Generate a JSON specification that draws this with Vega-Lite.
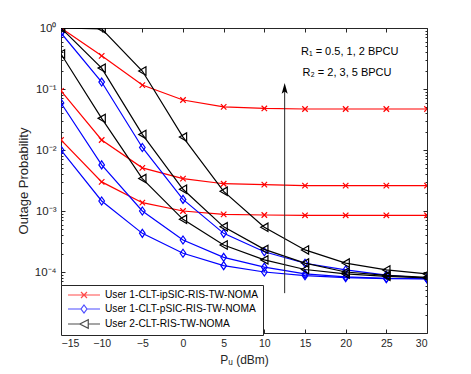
{
  "$schema": "https://vega.github.io/schema/vega-lite/v6.json",
  "width": 366,
  "height": 305,
  "autosize": "none",
  "padding": {"left": 61, "top": 28, "right": 44, "bottom": 41},
  "background": "white",
  "config": {
    "view": {"stroke": "#262626", "strokeWidth": 1},
    "font": "Liberation Sans",
    "axis": {
      "grid": false,
      "domain": false,
      "labelFont": "Liberation Sans",
      "titleFont": "Liberation Sans",
      "labelColor": "#262626",
      "tickColor": "#262626",
      "titleColor": "#262626",
      "labelFontSize": 10.5,
      "titleFontSize": 12,
      "titleFontWeight": "normal"
    },
    "legend": {
      "orient": "none",
      "legendX": 0,
      "legendY": 257,
      "strokeColor": "#262626",
      "fillColor": "white",
      "padding": 4,
      "labelFont": "Liberation Sans",
      "labelFontSize": 10.2,
      "labelColor": "black",
      "symbolSize": 100,
      "symbolStrokeWidth": 1.2,
      "symbolOffset": 13,
      "labelOffset": 15,
      "rowPadding": 1
    }
  },
  "data": {
    "values": [
      {"series": "User 1-CLT-ipSIC-RIS-TW-NOMA", "curve": "r1", "x": -15, "y": 1.0},
      {"series": "User 1-CLT-ipSIC-RIS-TW-NOMA", "curve": "r1", "x": -10, "y": 0.35},
      {"series": "User 1-CLT-ipSIC-RIS-TW-NOMA", "curve": "r1", "x": -5, "y": 0.116},
      {"series": "User 1-CLT-ipSIC-RIS-TW-NOMA", "curve": "r1", "x": 0, "y": 0.066},
      {"series": "User 1-CLT-ipSIC-RIS-TW-NOMA", "curve": "r1", "x": 5, "y": 0.051},
      {"series": "User 1-CLT-ipSIC-RIS-TW-NOMA", "curve": "r1", "x": 10, "y": 0.048},
      {"series": "User 1-CLT-ipSIC-RIS-TW-NOMA", "curve": "r1", "x": 15, "y": 0.047},
      {"series": "User 1-CLT-ipSIC-RIS-TW-NOMA", "curve": "r1", "x": 20, "y": 0.047},
      {"series": "User 1-CLT-ipSIC-RIS-TW-NOMA", "curve": "r1", "x": 25, "y": 0.047},
      {"series": "User 1-CLT-ipSIC-RIS-TW-NOMA", "curve": "r1", "x": 30, "y": 0.047},
      {"series": "User 1-CLT-ipSIC-RIS-TW-NOMA", "curve": "r2", "x": -15, "y": 0.093},
      {"series": "User 1-CLT-ipSIC-RIS-TW-NOMA", "curve": "r2", "x": -10, "y": 0.0146},
      {"series": "User 1-CLT-ipSIC-RIS-TW-NOMA", "curve": "r2", "x": -5, "y": 0.0051},
      {"series": "User 1-CLT-ipSIC-RIS-TW-NOMA", "curve": "r2", "x": 0, "y": 0.0034},
      {"series": "User 1-CLT-ipSIC-RIS-TW-NOMA", "curve": "r2", "x": 5, "y": 0.0028},
      {"series": "User 1-CLT-ipSIC-RIS-TW-NOMA", "curve": "r2", "x": 10, "y": 0.0027},
      {"series": "User 1-CLT-ipSIC-RIS-TW-NOMA", "curve": "r2", "x": 15, "y": 0.0026},
      {"series": "User 1-CLT-ipSIC-RIS-TW-NOMA", "curve": "r2", "x": 20, "y": 0.0026},
      {"series": "User 1-CLT-ipSIC-RIS-TW-NOMA", "curve": "r2", "x": 25, "y": 0.0026},
      {"series": "User 1-CLT-ipSIC-RIS-TW-NOMA", "curve": "r2", "x": 30, "y": 0.0026},
      {"series": "User 1-CLT-ipSIC-RIS-TW-NOMA", "curve": "r3", "x": -15, "y": 0.0146},
      {"series": "User 1-CLT-ipSIC-RIS-TW-NOMA", "curve": "r3", "x": -10, "y": 0.003},
      {"series": "User 1-CLT-ipSIC-RIS-TW-NOMA", "curve": "r3", "x": -5, "y": 0.00137},
      {"series": "User 1-CLT-ipSIC-RIS-TW-NOMA", "curve": "r3", "x": 0, "y": 0.001},
      {"series": "User 1-CLT-ipSIC-RIS-TW-NOMA", "curve": "r3", "x": 5, "y": 0.00088},
      {"series": "User 1-CLT-ipSIC-RIS-TW-NOMA", "curve": "r3", "x": 10, "y": 0.00086},
      {"series": "User 1-CLT-ipSIC-RIS-TW-NOMA", "curve": "r3", "x": 15, "y": 0.00085},
      {"series": "User 1-CLT-ipSIC-RIS-TW-NOMA", "curve": "r3", "x": 20, "y": 0.00085},
      {"series": "User 1-CLT-ipSIC-RIS-TW-NOMA", "curve": "r3", "x": 25, "y": 0.00085},
      {"series": "User 1-CLT-ipSIC-RIS-TW-NOMA", "curve": "r3", "x": 30, "y": 0.00085},
      {"series": "User 1-CLT-pSIC-RIS-TW-NOMA", "curve": "b1", "x": -15, "y": 0.83},
      {"series": "User 1-CLT-pSIC-RIS-TW-NOMA", "curve": "b1", "x": -10, "y": 0.13},
      {"series": "User 1-CLT-pSIC-RIS-TW-NOMA", "curve": "b1", "x": -5, "y": 0.011},
      {"series": "User 1-CLT-pSIC-RIS-TW-NOMA", "curve": "b1", "x": 0, "y": 0.00155},
      {"series": "User 1-CLT-pSIC-RIS-TW-NOMA", "curve": "b1", "x": 5, "y": 0.00043},
      {"series": "User 1-CLT-pSIC-RIS-TW-NOMA", "curve": "b1", "x": 10, "y": 0.000215},
      {"series": "User 1-CLT-pSIC-RIS-TW-NOMA", "curve": "b1", "x": 15, "y": 0.000139},
      {"series": "User 1-CLT-pSIC-RIS-TW-NOMA", "curve": "b1", "x": 20, "y": 0.000108},
      {"series": "User 1-CLT-pSIC-RIS-TW-NOMA", "curve": "b1", "x": 25, "y": 0.000089},
      {"series": "User 1-CLT-pSIC-RIS-TW-NOMA", "curve": "b1", "x": 30, "y": 0.000079},
      {"series": "User 1-CLT-pSIC-RIS-TW-NOMA", "curve": "b2", "x": -15, "y": 0.059},
      {"series": "User 1-CLT-pSIC-RIS-TW-NOMA", "curve": "b2", "x": -10, "y": 0.0057},
      {"series": "User 1-CLT-pSIC-RIS-TW-NOMA", "curve": "b2", "x": -5, "y": 0.001},
      {"series": "User 1-CLT-pSIC-RIS-TW-NOMA", "curve": "b2", "x": 0, "y": 0.000335},
      {"series": "User 1-CLT-pSIC-RIS-TW-NOMA", "curve": "b2", "x": 5, "y": 0.000174},
      {"series": "User 1-CLT-pSIC-RIS-TW-NOMA", "curve": "b2", "x": 10, "y": 0.00012},
      {"series": "User 1-CLT-pSIC-RIS-TW-NOMA", "curve": "b2", "x": 15, "y": 0.000093},
      {"series": "User 1-CLT-pSIC-RIS-TW-NOMA", "curve": "b2", "x": 20, "y": 0.000083},
      {"series": "User 1-CLT-pSIC-RIS-TW-NOMA", "curve": "b2", "x": 25, "y": 0.000079},
      {"series": "User 1-CLT-pSIC-RIS-TW-NOMA", "curve": "b2", "x": 30, "y": 0.000078},
      {"series": "User 1-CLT-pSIC-RIS-TW-NOMA", "curve": "b3", "x": -15, "y": 0.01},
      {"series": "User 1-CLT-pSIC-RIS-TW-NOMA", "curve": "b3", "x": -10, "y": 0.00146},
      {"series": "User 1-CLT-pSIC-RIS-TW-NOMA", "curve": "b3", "x": -5, "y": 0.00043},
      {"series": "User 1-CLT-pSIC-RIS-TW-NOMA", "curve": "b3", "x": 0, "y": 0.000203},
      {"series": "User 1-CLT-pSIC-RIS-TW-NOMA", "curve": "b3", "x": 5, "y": 0.000127},
      {"series": "User 1-CLT-pSIC-RIS-TW-NOMA", "curve": "b3", "x": 10, "y": 0.0001},
      {"series": "User 1-CLT-pSIC-RIS-TW-NOMA", "curve": "b3", "x": 15, "y": 0.000087},
      {"series": "User 1-CLT-pSIC-RIS-TW-NOMA", "curve": "b3", "x": 20, "y": 0.000081},
      {"series": "User 1-CLT-pSIC-RIS-TW-NOMA", "curve": "b3", "x": 25, "y": 0.000078},
      {"series": "User 1-CLT-pSIC-RIS-TW-NOMA", "curve": "b3", "x": 30, "y": 0.000077},
      {"series": "User 2-CLT-RIS-TW-NOMA", "curve": "k1", "x": -15, "y": 1.0},
      {"series": "User 2-CLT-RIS-TW-NOMA", "curve": "k1", "x": -10, "y": 0.97},
      {"series": "User 2-CLT-RIS-TW-NOMA", "curve": "k1", "x": -5, "y": 0.197},
      {"series": "User 2-CLT-RIS-TW-NOMA", "curve": "k1", "x": 0, "y": 0.0163},
      {"series": "User 2-CLT-RIS-TW-NOMA", "curve": "k1", "x": 5, "y": 0.0021},
      {"series": "User 2-CLT-RIS-TW-NOMA", "curve": "k1", "x": 10, "y": 0.00054},
      {"series": "User 2-CLT-RIS-TW-NOMA", "curve": "k1", "x": 15, "y": 0.00023},
      {"series": "User 2-CLT-RIS-TW-NOMA", "curve": "k1", "x": 20, "y": 0.00014},
      {"series": "User 2-CLT-RIS-TW-NOMA", "curve": "k1", "x": 25, "y": 0.000108},
      {"series": "User 2-CLT-RIS-TW-NOMA", "curve": "k1", "x": 30, "y": 0.000093},
      {"series": "User 2-CLT-RIS-TW-NOMA", "curve": "k2", "x": -15, "y": 1.0},
      {"series": "User 2-CLT-RIS-TW-NOMA", "curve": "k2", "x": -10, "y": 0.22},
      {"series": "User 2-CLT-RIS-TW-NOMA", "curve": "k2", "x": -5, "y": 0.018},
      {"series": "User 2-CLT-RIS-TW-NOMA", "curve": "k2", "x": 0, "y": 0.00227},
      {"series": "User 2-CLT-RIS-TW-NOMA", "curve": "k2", "x": 5, "y": 0.00055},
      {"series": "User 2-CLT-RIS-TW-NOMA", "curve": "k2", "x": 10, "y": 0.000235},
      {"series": "User 2-CLT-RIS-TW-NOMA", "curve": "k2", "x": 15, "y": 0.00014},
      {"series": "User 2-CLT-RIS-TW-NOMA", "curve": "k2", "x": 20, "y": 0.0001},
      {"series": "User 2-CLT-RIS-TW-NOMA", "curve": "k2", "x": 25, "y": 0.000088},
      {"series": "User 2-CLT-RIS-TW-NOMA", "curve": "k2", "x": 30, "y": 0.000082},
      {"series": "User 2-CLT-RIS-TW-NOMA", "curve": "k3", "x": -15, "y": 0.375},
      {"series": "User 2-CLT-RIS-TW-NOMA", "curve": "k3", "x": -10, "y": 0.033},
      {"series": "User 2-CLT-RIS-TW-NOMA", "curve": "k3", "x": -5, "y": 0.0034},
      {"series": "User 2-CLT-RIS-TW-NOMA", "curve": "k3", "x": 0, "y": 0.00073},
      {"series": "User 2-CLT-RIS-TW-NOMA", "curve": "k3", "x": 5, "y": 0.000277},
      {"series": "User 2-CLT-RIS-TW-NOMA", "curve": "k3", "x": 10, "y": 0.000158},
      {"series": "User 2-CLT-RIS-TW-NOMA", "curve": "k3", "x": 15, "y": 0.00011},
      {"series": "User 2-CLT-RIS-TW-NOMA", "curve": "k3", "x": 20, "y": 0.000093},
      {"series": "User 2-CLT-RIS-TW-NOMA", "curve": "k3", "x": 25, "y": 0.000085},
      {"series": "User 2-CLT-RIS-TW-NOMA", "curve": "k3", "x": 30, "y": 0.00008}
    ]
  },
  "resolve": {"axis": {"x": "independent", "y": "independent"}},
  "layer": [
    {
      "transform": [{"filter": "datum.series === 'User 1-CLT-ipSIC-RIS-TW-NOMA'"}],
      "mark": {"type": "line", "color": "#FF0000", "strokeWidth": 1.2, "clip": true,
               "point": {"shape": "M-1,-1L1,1M-1,1L1,-1", "filled": false, "size": 30, "color": "#FF0000", "strokeWidth": 1.2}},
      "encoding": {
        "x": {"field": "x", "type": "quantitative", "scale": {"domain": [-15, 30], "nice": false},
              "axis": {"orient": "bottom", "values": [-15, -10, -5, 0, 5, 10, 15, 20, 25, 30], "tickSize": -4, "labelPadding": 9, "title": "Pᵤ (dBm)", "titlePadding": 6}},
        "y": {"field": "y", "type": "quantitative", "scale": {"type": "log", "domain": [0.00001, 1], "nice": false},
              "axis": {"orient": "left", "values": [1, 0.1, 0.01, 0.001, 0.0001], "tickSize": -4, "labelPadding": 9, "labelFontSize": 11.5,
                       "labelExpr": "['10⁰','10⁻¹','10⁻²','10⁻³','10⁻⁴','10⁻⁵'][-round(log(datum.value)/LN10)]",
                       "title": "Outage Probability", "titleFontSize": 13, "titlePadding": 4}},
        "detail": {"field": "curve"}
      }
    },
    {
      "transform": [{"filter": "datum.series === 'User 1-CLT-pSIC-RIS-TW-NOMA'"}],
      "mark": {"type": "line", "color": "#0000FF", "strokeWidth": 1.2, "clip": true,
               "point": {"shape": "M0,-1L0.7,0L0,1L-0.7,0Z", "filled": false, "size": 64, "color": "#0000FF", "strokeWidth": 1.2}},
      "encoding": {
        "x": {"field": "x", "type": "quantitative",
              "axis": {"orient": "top", "values": [-15, -10, -5, 0, 5, 10, 15, 20, 25, 30], "tickSize": -4, "labels": false, "title": null}},
        "y": {"field": "y", "type": "quantitative",
              "axis": {"orient": "right", "values": [1, 0.1, 0.01, 0.001, 0.0001], "tickSize": -4, "labels": false, "title": null}},
        "detail": {"field": "curve"}
      }
    },
    {
      "transform": [{"filter": "datum.series === 'User 2-CLT-RIS-TW-NOMA'"}],
      "mark": {"type": "line", "color": "#000000", "strokeWidth": 1.2, "clip": true,
               "point": {"shape": "triangle-left", "filled": false, "size": 70, "color": "#000000", "strokeWidth": 1.2}},
      "encoding": {
        "x": {"field": "x", "type": "quantitative", "axis": null},
        "y": {"field": "y", "type": "quantitative",
              "axis": {"orient": "left", "values": [0.00002, 0.00003, 0.00004, 0.00005, 0.00006, 0.00007, 0.00008, 0.00009, 0.0002, 0.0003, 0.0004, 0.0005, 0.0006, 0.0007, 0.0008, 0.0009, 0.002, 0.003, 0.004, 0.005, 0.006, 0.007, 0.008, 0.009, 0.02, 0.03, 0.04, 0.05, 0.06, 0.07, 0.08, 0.09, 0.2, 0.3, 0.4, 0.5, 0.6, 0.7, 0.8, 0.9], "tickSize": -2, "labels": false, "title": null}},
        "detail": {"field": "curve"}
      }
    },
    {
      "transform": [{"filter": "datum.x > 100"}],
      "mark": {"type": "point", "filled": false, "strokeWidth": 1.2},
      "encoding": {
        "x": {"field": "x", "type": "quantitative", "axis": null},
        "y": {"field": "y", "type": "quantitative",
              "axis": {"orient": "right", "values": [0.00002, 0.00003, 0.00004, 0.00005, 0.00006, 0.00007, 0.00008, 0.00009, 0.0002, 0.0003, 0.0004, 0.0005, 0.0006, 0.0007, 0.0008, 0.0009, 0.002, 0.003, 0.004, 0.005, 0.006, 0.007, 0.008, 0.009, 0.02, 0.03, 0.04, 0.05, 0.06, 0.07, 0.08, 0.09, 0.2, 0.3, 0.4, 0.5, 0.6, 0.7, 0.8, 0.9], "tickSize": -2, "labels": false, "title": null}},
        "color": {"field": "series", "type": "nominal",
                  "scale": {"domain": ["User 1-CLT-ipSIC-RIS-TW-NOMA", "User 1-CLT-pSIC-RIS-TW-NOMA", "User 2-CLT-RIS-TW-NOMA"], "range": ["#FF0000", "#0000FF", "#000000"]},
                  "legend": {"title": null}},
        "shape": {"field": "series", "type": "nominal",
                  "scale": {"domain": ["User 1-CLT-ipSIC-RIS-TW-NOMA", "User 1-CLT-pSIC-RIS-TW-NOMA", "User 2-CLT-RIS-TW-NOMA"],
                            "range": ["M-3.2,0H3.2M-0.6,-0.6L0.6,0.6M-0.6,0.6L0.6,-0.6", "M-3.2,0H-0.6M0.6,0H3.2M0,-0.8L0.6,0L0,0.8L-0.6,0Z", "M-3.2,0H-0.85M0.85,0H3.2M-0.85,0L0.85,-0.85L0.85,0.85Z"]},
                  "legend": {"title": null}}
      }
    },
    {
      "data": {"values": [{"x": 12.5, "y": 0.000045, "y2": 0.1}]},
      "mark": {"type": "rule", "color": "#262626", "strokeWidth": 1},
      "encoding": {
        "x": {"field": "x", "type": "quantitative", "axis": null},
        "y": {"field": "y", "type": "quantitative", "axis": null},
        "y2": {"field": "y2"}
      }
    },
    {
      "data": {"values": [{"x": 12.5, "y": 0.1}]},
      "mark": {"type": "point", "shape": "M0,-1L0.5,0.8L0,0.4L-0.5,0.8Z", "filled": true, "color": "#000000", "size": 144, "opacity": 1},
      "encoding": {
        "x": {"field": "x", "type": "quantitative", "axis": null},
        "y": {"field": "y", "type": "quantitative", "axis": null}
      }
    },
    {
      "data": {"values": [{"x": 14.5, "y": 0.40, "label": "R₁ = 0.5, 1, 2 BPCU"}, {"x": 14.7, "y": 0.183, "label": "R₂ = 2, 3, 5 BPCU"}]},
      "mark": {"type": "text", "align": "left", "baseline": "middle", "fontSize": 11, "font": "Liberation Sans", "color": "#000000"},
      "encoding": {
        "x": {"field": "x", "type": "quantitative", "axis": null},
        "y": {"field": "y", "type": "quantitative", "axis": null},
        "text": {"field": "label"}
      }
    }
  ]
}
